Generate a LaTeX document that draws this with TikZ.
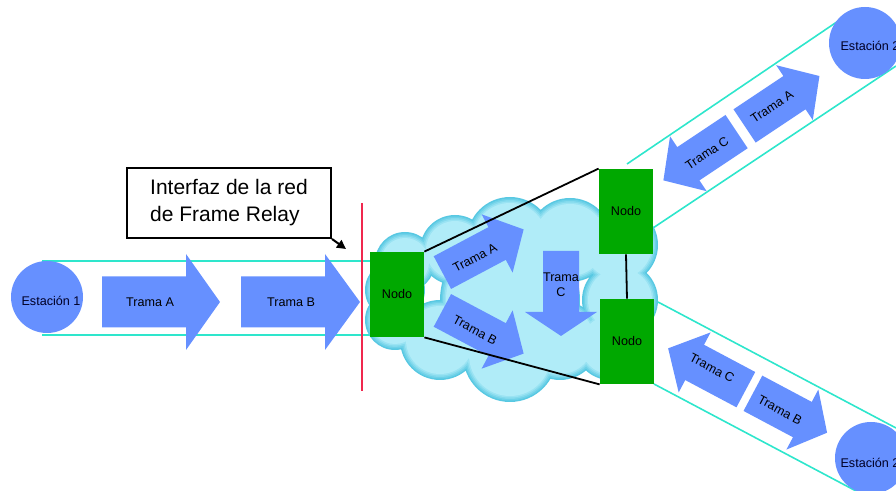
\documentclass[tikz,border=0pt]{standalone}
\usepackage{fontspec}
\setmainfont{Liberation Sans}
\usetikzlibrary{arrows.meta}

\definecolor{framblue}{HTML}{6690FF}
\definecolor{nodegreen}{HTML}{00A800}
\definecolor{bandcyan}{HTML}{2EE6CC}
\definecolor{ifred}{HTML}{F0284E}
\definecolor{cloudrim}{HTML}{58C8E2}
\definecolor{cloudin}{HTML}{B0ECF8}

% fat block arrow: #1 centre, #2 angle, #3 length, #4 body width,
% #5 head width, #6 head length, #7 = 1 (forward) or -1 (reversed)
\newcommand\fatarrow[7]{%
  \begin{scope}[shift={#1}, rotate=#2, xscale=#7]
    \fill[framblue] ({-(#3)/2},{-(#4)/2}) -- ({(#3)/2-(#6)},{-(#4)/2})
      -- ({(#3)/2-(#6)},{-(#5)/2}) -- ({(#3)/2},0)
      -- ({(#3)/2-(#6)},{(#5)/2}) -- ({(#3)/2-(#6)},{(#4)/2})
      -- ({-(#3)/2},{(#4)/2}) -- cycle;
  \end{scope}}

% one layer of the network cloud, every bump shrunk by #2
\newcommand\cloudlayer[2]{%
  \fill[#1]
    (405,262) circle[radius=30-#2]
    (455,250) circle[radius=35-#2]
    (510,240) circle[radius=43-#2]
    (570,240) circle[radius=42-#2]
    (618,245) circle[radius=40-#2]
    (620,300) circle[radius=38-#2]
    (610,345) circle[radius=35-#2]
    (560,340) circle[radius=40-#2]
    (510,355) circle[radius=47-#2]
    (440,340) circle[radius=40-#2]
    (395,320) circle[radius=30-#2]
    (395,290) circle[radius=30-#2]
    (510,300) circle[radius=70-#2];}

\begin{document}
\begin{tikzpicture}[x=0.5pt,y=-0.5pt,
  lbl/.style={font=\fontsize{6.3}{7.6}\selectfont, inner sep=0pt},
  stlbl/.style={lbl, text=black!85!blue},
  station/.style={circle, fill=framblue, minimum size=36pt, inner sep=0pt},
  nodobox/.style={rectangle, fill=nodegreen, minimum width=27pt,
    minimum height=42.5pt, inner sep=0pt, font=\fontsize{6.3}{7.6}\selectfont},
  bandline/.style={bandcyan, line width=0.8pt},
  link/.style={black, line width=0.9pt}]

\useasboundingbox (0,0) rectangle (896,491);
\clip (0,0) rectangle (896,491);

% access lines (bands)
\coordinate (b1a) at (42,261);  \coordinate (b1b) at (370,261);
\coordinate (b1c) at (42,335);  \coordinate (b1d) at (370,335);
\coordinate (b2a) at (627,164); \coordinate (b2b) at (853,11);
\coordinate (b2c) at (653,228); \coordinate (b2d) at (896,66);
\coordinate (b3a) at (658,302); \coordinate (b3b) at (896,428);
\coordinate (b3c) at (654,384); \coordinate (b3d) at (856,491);
\draw[bandline] (b1a) -- (b1b);
\draw[bandline] (b1c) -- (b1d);
\draw[bandline] (b2a) -- (b2b);
\draw[bandline] (b2c) -- (b2d);
\draw[bandline] (b3a) -- (b3b);
\draw[bandline] (b3c) -- (b3d);

% Frame Relay network cloud, darker towards its rim
\cloudlayer{cloudrim}{0}
\cloudlayer{cloudrim!75!cloudin}{1.5}
\cloudlayer{cloudrim!50!cloudin}{3}
\cloudlayer{cloudrim!25!cloudin}{4.5}
\cloudlayer{cloudin}{6}

% stations
\node[station] (est1) at (47,297) {};
\node[stlbl] (est1t) at (51,301) {Estación 1};
\node[station] (est2a) at (865,43) {};
\node[stlbl] (est2at) at (870,46) {Estación 2};
\node[station] (est2b) at (871,458) {};
\node[stlbl] (est2bt) at (870,463) {Estación 2};

% frames on the access line of station 1
\fatarrow{(161,302)}{0}{118}{51}{96}{34}{1}
\node[lbl] (tA1) at (150,302) {Trama A};
\fatarrow{(300.5,302)}{0}{119}{51}{96}{35}{1}
\node[lbl] (tB1) at (291,302) {Trama B};

% frames inside the network
\fatarrow{(483,251)}{28}{92}{37}{66}{30}{1}
\node[lbl, rotate=28] (tA2) at (475,258) {Trama A};
\fatarrow{(483,332)}{-28}{92}{37}{66}{30}{1}
\node[lbl, rotate=-28] (tB2) at (475,330) {Trama B};
\fatarrow{(561,293.5)}{-90}{85}{36}{72}{24}{1}
\node[lbl, align=center] (tC2) at (561,285) {Trama\\C};

% frames on the upper access line
\fatarrow{(782,101)}{33.7}{90}{40}{66}{30}{1}
\node[lbl, rotate=33.7] (tA3) at (772,107) {Trama A};
\fatarrow{(700,156)}{33.7}{88}{40}{66}{30}{-1}
\node[lbl, rotate=33.7] (tC3) at (707,153) {Trama C};

% frames on the lower access line
\fatarrow{(707,369)}{-28}{88}{40}{68}{30}{-1}
\node[lbl, rotate=-28] (tC4) at (712,368) {Trama C};
\fatarrow{(790,413)}{-28}{84}{40}{68}{28}{1}
\node[lbl, rotate=-28] (tB4) at (780,410) {Trama B};

% switching nodes
\node[nodobox] (nodoL) at (397,294.5) {Nodo};
\node[nodobox] (nodoT) at (626,211.5) {Nodo};
\node[nodobox] (nodoB) at (627,341.5) {Nodo};

% trunk lines between nodes
\draw[link] (nodoL.north east) -- (nodoT.north west);
\draw[link] (nodoL.south east) -- (nodoB.south west);
\draw[link] (nodoT.south) -- (nodoB.north);

% network interface boundary
\coordinate (ifTop) at (362,203);
\coordinate (ifBot) at (362,391);
\draw[ifred, line width=0.7pt] (ifTop) -- (ifBot);

% callout
\node[draw, fill=white, line width=1pt, minimum width=102pt, minimum height=35pt,
  align=left, inner sep=0pt, font=\fontsize{10.5}{13.5}\selectfont]
  (callout) at (229,203) {Interfaz de la red\\de Frame Relay};
\coordinate (ifpt) at (346,249);
\draw[line width=1pt, -{Triangle[length=4.5pt,width=4.5pt]}] (callout.south east) -- (ifpt);

\end{tikzpicture}
\end{document}
